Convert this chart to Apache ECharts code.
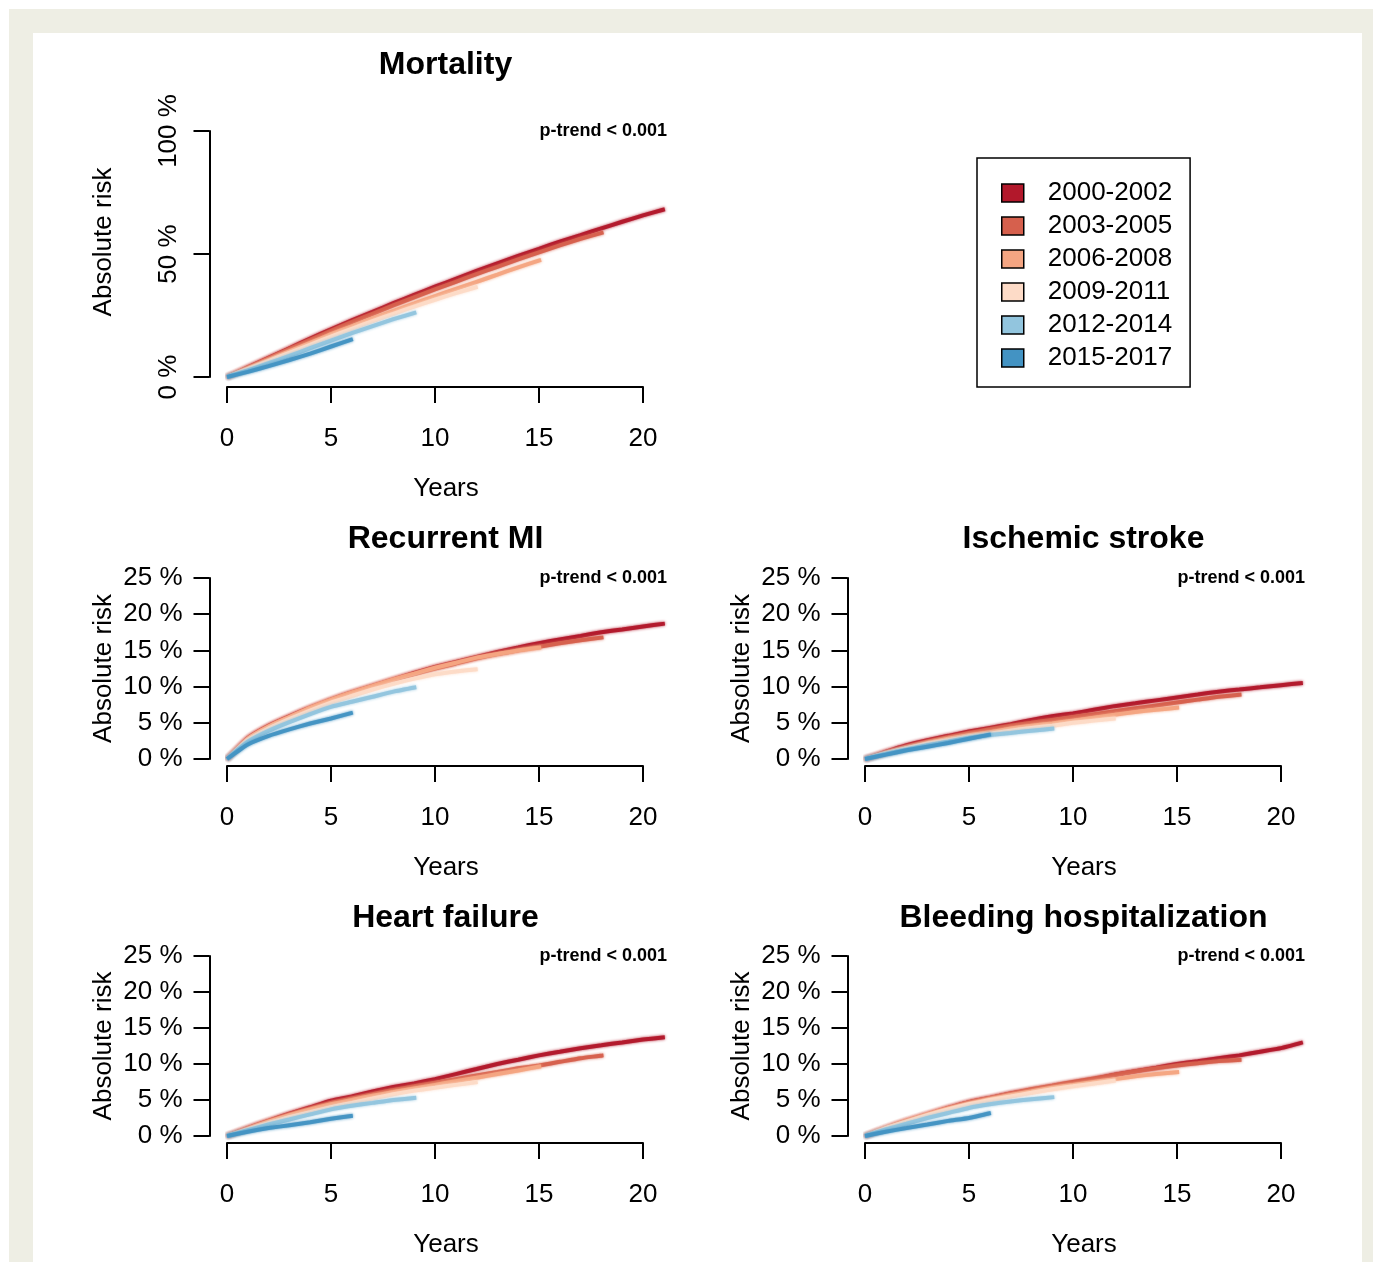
<!DOCTYPE html>
<html>
<head>
<meta charset="utf-8">
<script src="https://cdn.jsdelivr.net/npm/echarts@6/dist/echarts.min.js"></script>
<style>
  html, body { margin: 0; padding: 0; width: 1373px; height: 1262px; background: #fff; overflow: hidden; }
  #frame { position: absolute; left: 9px; top: 9px; right: 0; bottom: 0; background: #eeeee4; }
  #inner { position: absolute; left: 33px; top: 33px; width: 1329px; bottom: 0; background: #fff; }
  #chart { position: absolute; left: 0; top: 0; width: 1373px; height: 1262px; }
</style>
</head>
<body>
<div id="frame"></div>
<div id="inner"></div>
<div id="chart"></div>
<script>
// ---- Data ----
const periods = ['2000-2002', '2003-2005', '2006-2008', '2009-2011', '2012-2014', '2015-2017'];
const colors = ['#B2182B', '#D6604D', '#F4A582', '#FDDBC7', '#92C5DE', '#4393C3'];

const years2000 = [0,1,2,3,4,5,6,7,8,9,10,11,12,13,14,15,16,17,18,19,20,21.05];
const years2003 = [0,1,2,3,4,5,6,7,8,9,10,11,12,13,14,15,16,17,18.1];
const years2006 = [0,1,2,3,4,5,6,7,8,9,10,11,12,13,14,15.1];
const years2009 = [0,1,2,3,4,5,6,7,8,9,10,11,12.05];
const years2012 = [0,1,2,3,4,5,6,7,8,9.1];
const years2015 = [0,1,2,3,4,5,6.05];

const mortality = [
  [0,3.9,7.8,11.7,15.6,19.4,23,26.5,30,33.4,36.7,39.9,43.1,46.2,49.2,52.1,55,57.7,60.4,63.1,65.7,68.2],
  [0,3.8,7.6,11.4,15.1,18.8,22.3,25.7,29.1,32.4,35.6,38.7,41.8,44.8,47.8,50.7,53.5,56.2,58.8],
  [0,3.4,6.9,10.4,13.9,17.4,20.6,23.8,26.9,29.9,32.9,35.8,38.7,41.6,44.6,47.6],
  [0,3.2,6.5,9.8,13.1,16.4,19.6,22.7,25.7,28.6,31.4,34.1,36.7],
  [0,2.7,5.6,8.6,11.7,14.8,17.8,20.7,23.5,26.3],
  [0,2.1,4.4,6.9,9.5,12.4,15.4]
];
const recurrentMI = [
  [0,2.9,4.6,5.9,7.1,8.2,9.2,10.1,11,11.9,12.7,13.4,14.1,14.8,15.4,16,16.5,17,17.5,17.9,18.3,18.7],
  [0,2.8,4.5,5.8,7,8.1,9.1,10,10.9,11.7,12.5,13.2,13.9,14.5,15,15.5,16,16.4,16.8],
  [0,2.8,4.5,5.8,7.1,8.2,9.2,10.1,11,11.8,12.6,13.3,14,14.5,15,15.4],
  [0,2.6,4.2,5.5,6.7,7.8,8.7,9.6,10.4,11.1,11.7,12.1,12.4],
  [0,2.4,3.9,5.1,6.2,7.2,7.9,8.6,9.3,9.9],
  [0,2,3.2,4.1,4.9,5.6,6.4]
];
const ischemicStroke = [
  [0,1,1.9,2.6,3.2,3.8,4.3,4.8,5.4,5.9,6.3,6.8,7.3,7.7,8.1,8.5,8.9,9.3,9.6,9.9,10.2,10.5],
  [0,0.9,1.7,2.4,3.0,3.6,4.1,4.6,5.0,5.4,5.8,6.2,6.6,7.0,7.4,7.8,8.2,8.6,8.9],
  [0,0.8,1.5,2.2,2.8,3.3,3.7,4.2,4.6,4.9,5.3,5.7,6.1,6.5,6.8,7.1],
  [0,0.8,1.5,2.1,2.6,3.1,3.5,3.9,4.3,4.6,5,5.3,5.6],
  [0,0.7,1.3,1.9,2.4,2.9,3.3,3.6,3.9,4.2],
  [0,0.6,1.2,1.7,2.2,2.8,3.4]
];
const heartFailure = [
  [0,1.1,2.1,3.1,4.0,4.9,5.5,6.2,6.8,7.3,7.9,8.6,9.3,10,10.6,11.2,11.7,12.2,12.6,13,13.4,13.7],
  [0,1.1,2.1,3,3.8,4.6,5.2,5.8,6.4,6.9,7.4,7.9,8.4,8.9,9.4,9.8,10.3,10.8,11.2],
  [0,1.0,2,2.9,3.7,4.4,5,5.6,6.1,6.6,7.1,7.6,8.1,8.6,9.1,9.7],
  [0,0.9,1.8,2.6,3.3,4,4.6,5.2,5.8,6.3,6.7,7.1,7.5],
  [0,0.8,1.6,2.3,3.0,3.7,4.2,4.6,5,5.3],
  [0,0.6,1.1,1.5,1.9,2.4,2.8]
];
const bleeding = [
  [0,1.1,2.1,3,3.9,4.7,5.3,5.9,6.4,6.9,7.4,7.9,8.5,9,9.5,10,10.4,10.8,11.2,11.7,12.2,13],
  [0,1.1,2.1,3,3.9,4.7,5.3,5.9,6.5,7,7.5,8,8.5,9,9.4,9.8,10.1,10.4,10.6],
  [0,1.1,2.1,3,3.8,4.5,5.1,5.7,6.2,6.7,7.1,7.5,7.9,8.3,8.6,8.9],
  [0,1.1,2,2.9,3.7,4.4,5,5.5,6,6.5,6.9,7.3,7.7],
  [0,0.9,1.7,2.5,3.2,3.9,4.4,4.8,5.1,5.4],
  [0,0.6,1.1,1.6,2.1,2.5,3.2]
];

const xTicks = { min: 0, max: 20, interval: 5 };
const xDataMax = 21.84;   // plotting range (R's expanded x range beyond the last tick)
const pTrendText = 'p-trend < 0.001';

// ---- Layout ----
const FONT = '"Liberation Sans", Arial, Helvetica, sans-serif';
const yearsList = [years2000, years2003, years2006, years2009, years2012, years2015];
const panels = [
  { title: 'Mortality', data: mortality, left: 227, top: 131, height: 246, ymax: 100, yint: 50, xoff: 10, rot: true, titleY: 65 },
  { title: 'Recurrent MI', data: recurrentMI, left: 227, top: 578, height: 181, ymax: 25, yint: 5, xoff: 7, titleY: 539 },
  { title: 'Ischemic stroke', data: ischemicStroke, left: 865, top: 578, height: 181, ymax: 25, yint: 5, xoff: 7, titleY: 539 },
  { title: 'Heart failure', data: heartFailure, left: 227, top: 956, height: 180, ymax: 25, yint: 5, xoff: 7, titleY: 918 },
  { title: 'Bleeding hospitalization', data: bleeding, left: 865, top: 956, height: 180, ymax: 25, yint: 5, xoff: 7, titleY: 918 }
];
const PW = 416;

const grid = [], xAxis = [], yAxis = [], series = [], graphic = [];
panels.forEach((p, gi) => {
  const gAxis = 2 * gi, gData = 2 * gi + 1;
  grid.push({ left: p.left, top: p.top, width: PW, height: p.height });
  grid.push({ left: p.left, top: p.top, width: PW * xDataMax / xTicks.max, height: p.height });

  xAxis.push({
    type: 'value', gridIndex: gAxis, min: xTicks.min, max: xTicks.max, interval: xTicks.interval,
    offset: p.xoff,
    axisLine: { show: true, onZero: false, lineStyle: { color: '#000', width: 2 } },
    axisTick: { show: true, length: 16, lineStyle: { color: '#000', width: 2 } },
    axisLabel: { fontSize: 26, color: '#000', margin: 39, fontFamily: FONT },
    splitLine: { show: false },
    name: 'Years', nameLocation: 'middle', nameGap: 89,
    nameTextStyle: { fontSize: 26, color: '#000', fontFamily: FONT, padding: [0, 0, 0, 22] }
  });
  xAxis.push({ type: 'value', gridIndex: gData, min: xTicks.min, max: xDataMax, show: false });
  yAxis.push({
    type: 'value', gridIndex: gAxis, min: 0, max: p.ymax, interval: p.yint,
    offset: 17.5,
    axisLine: { show: true, onZero: false, lineStyle: { color: '#000', width: 2 } },
    axisTick: { show: true, length: 16, lineStyle: { color: '#000', width: 2 } },
    axisLabel: { fontSize: 26, color: '#000', margin: p.rot ? 28 : 27, rotate: p.rot ? 90 : 0,
                 formatter: '{value} %', fontFamily: FONT },
    splitLine: { show: false },
    name: 'Absolute risk', nameLocation: 'middle', nameGap: 93,
    nameTextStyle: { fontSize: 26, color: '#000', fontFamily: FONT, padding: p.rot ? [0, 0, 0, 24] : 0 }
  });
  yAxis.push({ type: 'value', gridIndex: gData, min: 0, max: p.ymax, show: false });
  for (let k = 0; k < periods.length; k++) {
    const ys = p.data[k];
    const xs = yearsList[k];
    series.push({
      name: periods[k], type: 'line', xAxisIndex: gData, yAxisIndex: gData,
      data: xs.map((x, i) => [x, ys[i]]),
      showSymbol: false, symbol: 'none', clip: false, smooth: 0.15,
      color: colors[k],
      lineStyle: { width: 4, color: colors[k], shadowColor: colors[k], shadowBlur: 3, opacity: 0.95 },
      itemStyle: { color: colors[k] },
      silent: true
    });
  }
  graphic.push({
    type: 'text', x: p.left + 218.5, y: p.titleY,
    style: { text: p.title, font: 'bold 32px ' + FONT, fill: '#000', align: 'center', verticalAlign: 'middle' }
  });
  graphic.push({
    type: 'text', x: p.left + 440, y: p.top,
    style: { text: pTrendText, font: 'bold 18px ' + FONT, fill: '#000', align: 'right', verticalAlign: 'middle' }
  });
});

const chart = echarts.init(document.getElementById('chart'), null, { renderer: 'canvas', width: 1373, height: 1262 });
chart.setOption({
  animation: false,
  backgroundColor: 'transparent',
  textStyle: { fontFamily: FONT },
  grid, xAxis, yAxis, series, graphic,
  legend: {
    data: periods, orient: 'vertical', left: 977, top: 158,
    icon: 'rect', itemWidth: 22, itemHeight: 18, itemGap: 7,
    padding: [22, 18, 16, 24],
    borderColor: '#000', borderWidth: 1.5,
    itemStyle: { borderColor: '#000', borderWidth: 1.5 },
    textStyle: { fontSize: 26, lineHeight: 26, color: '#000', padding: [0, 0, 0, 19], fontFamily: FONT },
    selectedMode: false
  }
});
</script>
</body>
</html>
